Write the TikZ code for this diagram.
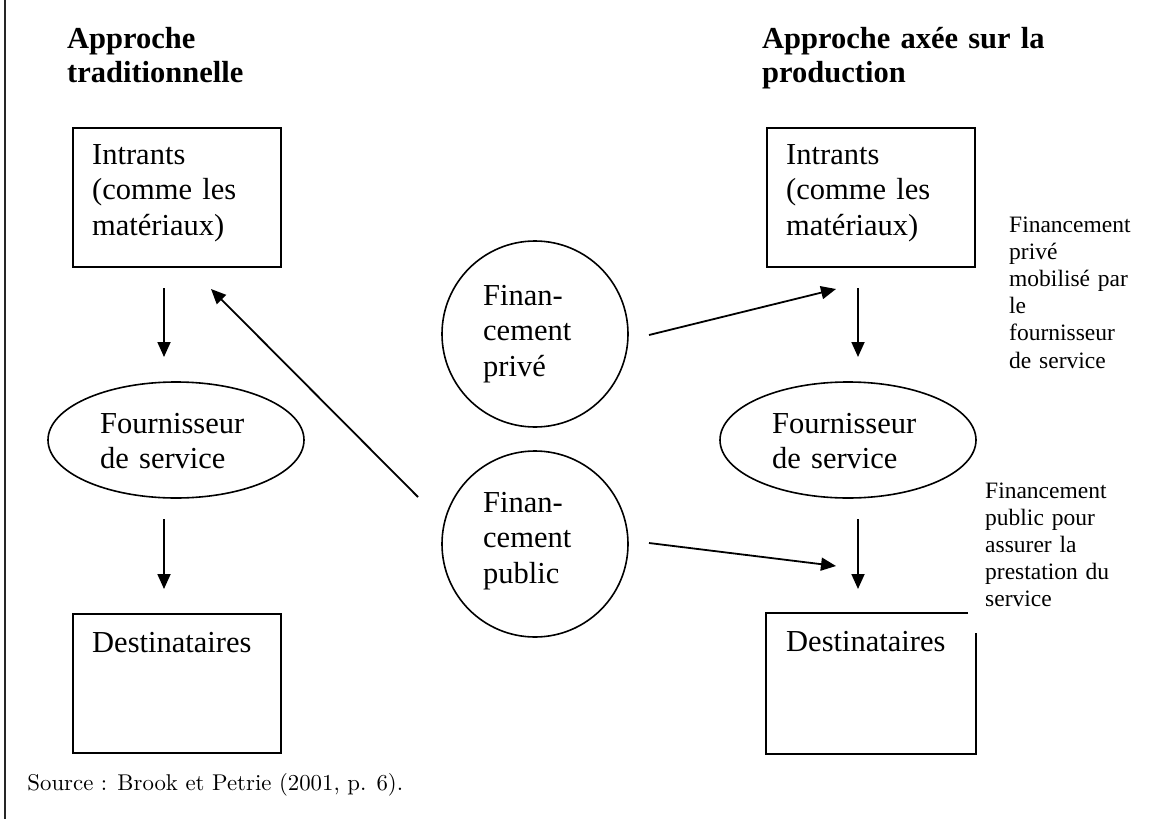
\documentclass[tikz,border=0pt]{standalone}
\usepackage{fontspec}
\newfontfamily\tnr{Liberation Serif}
\usetikzlibrary{arrows.meta,shapes.geometric}
\begin{document}
\begin{tikzpicture}[x=1pt,y=-1pt,
  boxline/.style={line width=2pt},
  box/.style={draw, boxline, rectangle, minimum width=208pt, minimum height=139pt, inner sep=0pt, anchor=north west},
  ell/.style={draw, ellipse, line width=1.6pt, minimum width=256pt, minimum height=116pt, inner sep=0pt},
  circ/.style={draw, circle, line width=1.6pt, minimum size=186pt, inner sep=0pt},
  body/.style={font=\tnr\fontsize{30.5}{35.5}\selectfont, align=left, inner sep=0pt, anchor=base west, text width=190pt},
  title/.style={font=\tnr\bfseries\fontsize{30.5}{34.5}\selectfont, align=left, inner sep=0pt, anchor=base west, text width=330pt},
  small/.style={font=\tnr\fontsize{23.5}{27.2}\selectfont, align=left, inner sep=0pt, anchor=base west, text width=150pt},
  src/.style={font=\fontsize{10}{12}\selectfont, scale=2.28, inner sep=0pt, anchor=base west},
  arr/.style={line width=1.8pt, -{Triangle[length=15pt,width=13pt]}}
]
\useasboundingbox (0,0) rectangle (1151,819);

% left frame line
\coordinate (fT) at (5,0);
\coordinate (fB) at (5,819);
\draw[line width=2pt, black!85] (fT) -- (fB);

% titles
\node[title] (tL) at (67,48) {Approche\\traditionnelle};
\node[title] (tR) at (762,48) {Approche axée sur la\\production};

% left column
\node[box] (inL) at (72,127) {};
\node[body] (inLt) at (92,164) {Intrants\\(comme les\\matériaux)};
\node[ell] (foL) at (176,440) {};
\node[body] (foLt) at (100,433) {Fournisseur\\de service};
\node[box] (deL) at (72,613) {};
\node[body] (deLt) at (92,652) {Destinataires};

% right column
\node[box] (inR) at (766,127) {};
\node[body] (inRt) at (786,164) {Intrants\\(comme les\\matériaux)};
\node[ell] (foR) at (848,440) {};
\node[body] (foRt) at (772,433) {Fournisseur\\de service};
\node[box, draw=none] (deR) at (766,613) {};
\draw[boxline] ([xshift=-8pt]deR.north east) -- (deR.north west) -- (deR.south west) -- (deR.south east) -- ([yshift=-20pt]deR.north east);
\node[body] (deRt) at (786,651) {Destinataires};

% financing circles
\node[circ] (prv) at (535,334) {};
\node[body, text width=130pt] (prvt) at (483,305) {Finan-\\cement\\privé};
\node[circ] (pub) at (535,544) {};
\node[body, text width=130pt] (pubt) at (483,512) {Finan-\\cement\\public};

% side labels
\node[small] (lbP) at (1009,232) {Financement\\privé\\mobilisé par\\le\\fournisseur\\de service};
\node[small] (lbU) at (985,498) {Financement\\public pour\\assurer la\\prestation du\\service};

% source
\node[src] (src) at (27,790) {Source : Brook et Petrie (2001, p. 6).};

% arrow end points
\coordinate (a1s) at (164,288); \coordinate (a1e) at (164,357);
\coordinate (a2s) at (164,519); \coordinate (a2e) at (164,589);
\coordinate (a3s) at (858,288); \coordinate (a3e) at (858,357);
\coordinate (a4s) at (858,519); \coordinate (a4e) at (858,589);
\coordinate (dgs) at (418,497); \coordinate (dge) at (211,289);
\coordinate (pvs) at (649,335); \coordinate (pve) at (836,289);
\coordinate (pbs) at (649,543); \coordinate (pbe) at (836,566);

\draw[arr] (a1s) -- (a1e);
\draw[arr] (a2s) -- (a2e);
\draw[arr] (a3s) -- (a3e);
\draw[arr] (a4s) -- (a4e);
\draw[arr] (dgs) -- (dge);
\draw[arr] (pvs) -- (pve);
\draw[arr] (pbs) -- (pbe);
\end{tikzpicture}
\end{document}
